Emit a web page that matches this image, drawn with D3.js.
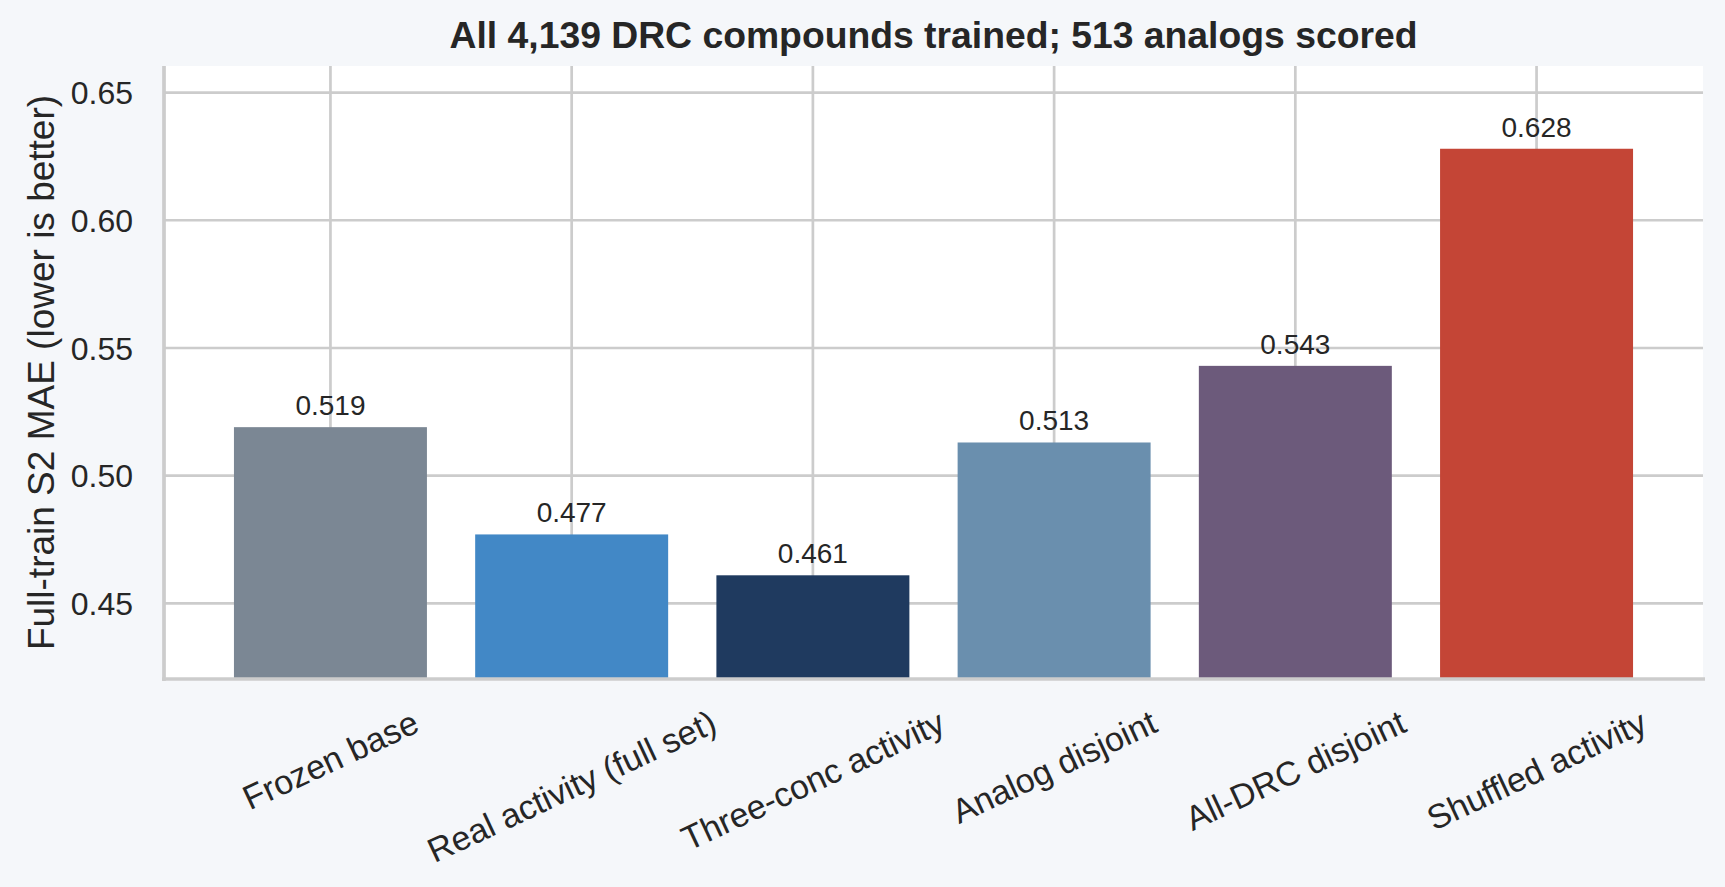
<!DOCTYPE html>
<html>
<head>
<meta charset="utf-8">
<script src="https://cdnjs.cloudflare.com/ajax/libs/d3/7.8.5/d3.min.js"></script>
<style>
  html, body { margin: 0; padding: 0; background: #f5f7fa; }
  svg { display: block; font-family: "Liberation Sans", Arial, sans-serif; }
</style>
</head>
<body>
<svg id="chart" width="1725" height="887"></svg>
<script>
// data
var categories = ["Frozen base", "Real activity (full set)", "Three-conc activity",
                  "Analog disjoint", "All-DRC disjoint", "Shuffled activity"];
var maeValues = [0.519, 0.477, 0.461, 0.513, 0.543, 0.628];
var barColors = ["#7b8794", "#4288c6", "#1f3a5f", "#6a8fae", "#6c5a7b", "#c44536"];
var yTicks = [0.45, 0.50, 0.55, 0.60, 0.65];

var title = "All 4,139 DRC compounds trained; 513 analogs scored";
var yLabel = "Full-train S2 MAE (lower is better)";

// plot box (window.top is reserved, so prefixed names)
var pLeft = 164, pRight = 1703, pTop = 66, pBottom = 679;
var ink = "#262626", grid = "#cccccc";

var svg = d3.select("#chart");

svg.append("rect")
  .attr("width", 1725).attr("height", 887)
  .attr("fill", "#f5f7fa");

// plot area
svg.append("rect")
  .attr("x", pLeft).attr("y", pTop)
  .attr("width", pRight - pLeft).attr("height", pBottom - pTop)
  .attr("fill", "#ffffff");

var x = d3.scaleBand()
  .domain(categories)
  .range([pLeft, pRight])
  .paddingInner(0.2)
  .paddingOuter(0.29);

var y = d3.scaleLinear()
  .domain([0.4204, 0.6604])
  .range([pBottom, pTop]);

// grid
svg.append("g").selectAll("line")
  .data(yTicks)
  .enter().append("line")
  .attr("x1", pLeft).attr("x2", pRight)
  .attr("y1", function(d) { return y(d); })
  .attr("y2", function(d) { return y(d); })
  .attr("stroke", grid)
  .attr("stroke-width", 2.7);

svg.append("g").selectAll("line")
  .data(categories)
  .enter().append("line")
  .attr("x1", function(d) { return x(d) + x.bandwidth() / 2; })
  .attr("x2", function(d) { return x(d) + x.bandwidth() / 2; })
  .attr("y1", pTop).attr("y2", pBottom)
  .attr("stroke", grid)
  .attr("stroke-width", 2.7);

// bars
svg.append("g").selectAll("rect")
  .data(maeValues)
  .enter().append("rect")
  .attr("x", function(d, i) { return x(categories[i]); })
  .attr("width", x.bandwidth())
  .attr("y", function(d) { return y(d); })
  .attr("height", function(d) { return pBottom - y(d); })
  .attr("fill", function(d, i) { return barColors[i]; });

// value labels
svg.append("g").selectAll("text")
  .data(maeValues)
  .enter().append("text")
  .attr("x", function(d, i) { return x(categories[i]) + x.bandwidth() / 2; })
  .attr("y", function(d) { return y(d) - 12; })
  .attr("text-anchor", "middle")
  .attr("font-size", 28)
  .attr("fill", ink)
  .text(function(d) { return d.toFixed(3); });

// spines
svg.append("line")
  .attr("x1", pLeft).attr("x2", pLeft)
  .attr("y1", pTop).attr("y2", pBottom + 2)
  .attr("stroke", grid).attr("stroke-width", 3.7);
svg.append("line")
  .attr("x1", pLeft - 2).attr("x2", pRight + 2)
  .attr("y1", pBottom).attr("y2", pBottom)
  .attr("stroke", grid).attr("stroke-width", 3.7);

// y tick labels
svg.append("g").selectAll("text")
  .data(yTicks)
  .enter().append("text")
  .attr("x", 133)
  .attr("y", function(d) { return y(d); })
  .attr("dy", "0.36em")
  .attr("text-anchor", "end")
  .attr("font-size", 32)
  .attr("fill", ink)
  .text(function(d) { return d3.format(".2f")(d); });

// x tick labels, rotated 25deg, bbox centred under the tick
var rot = 25 * Math.PI / 180;
var fs = 34;
svg.append("g").selectAll("text")
  .data(categories)
  .enter().append("text")
  .attr("font-size", fs)
  .attr("fill", ink)
  .attr("text-anchor", "middle")
  .attr("dy", "0.35em")
  .text(function(d) { return d; })
  .each(function(d) {
    var len = this.getComputedTextLength();
    var h = len * Math.sin(rot) + fs * 1.1 * Math.cos(rot);
    var cx = x(d) + x.bandwidth() / 2;
    var cy = 703 + h / 2;
    d3.select(this)
      .attr("x", cx).attr("y", cy)
      .attr("transform", "rotate(-25," + cx + "," + cy + ")");
  });

// y axis label
svg.append("text")
  .attr("transform", "translate(54," + ((pTop + pBottom) / 2) + ") rotate(-90)")
  .attr("text-anchor", "middle")
  .attr("font-size", 37)
  .attr("fill", ink)
  .text(yLabel);

// title
svg.append("text")
  .attr("x", (pLeft + pRight) / 2)
  .attr("y", 48)
  .attr("text-anchor", "middle")
  .attr("font-size", 37.3)
  .attr("font-weight", "bold")
  .attr("fill", ink)
  .text(title);
</script>
</body>
</html>
